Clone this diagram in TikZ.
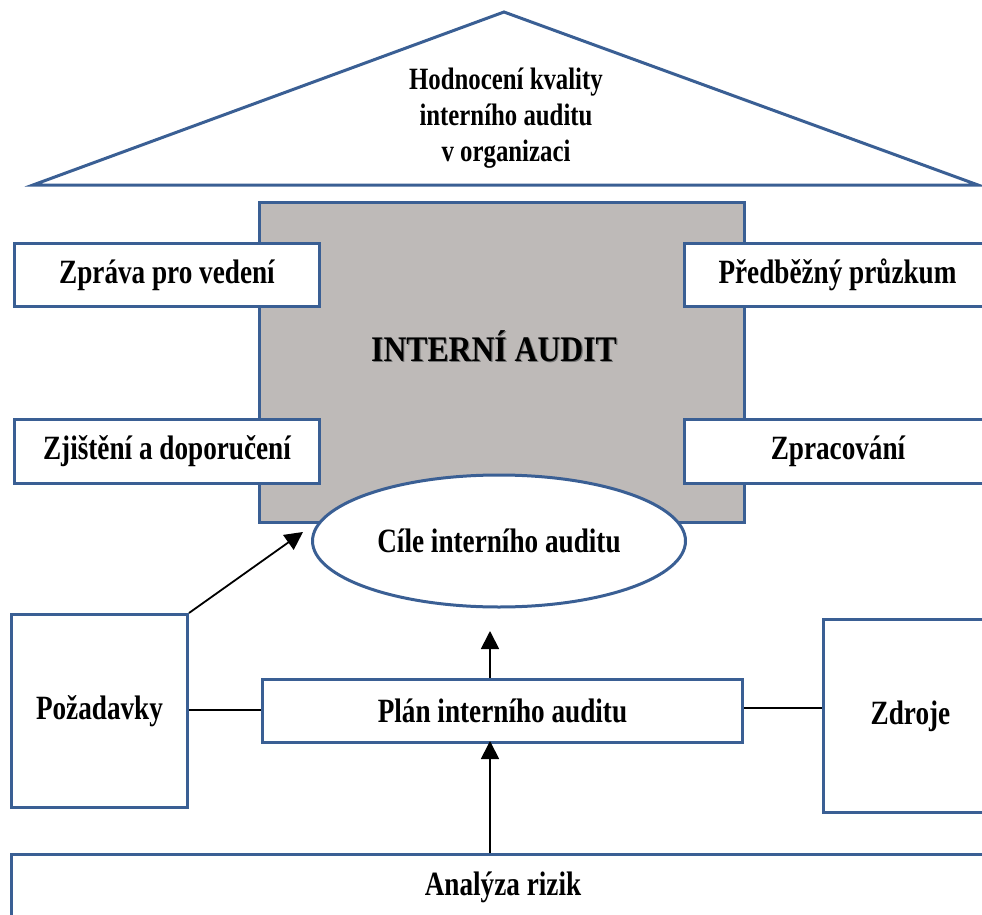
\documentclass[tikz,border=0pt]{standalone}
\usepackage{fontspec}
\setmainfont{Liberation Serif}
\newfontfamily\condfont[FakeStretch=0.8]{Liberation Serif}
\newfontfamily\iafont[FakeStretch=0.88]{Liberation Serif}
\usetikzlibrary{shapes.geometric,arrows.meta}
\definecolor{bordblue}{HTML}{3A5F94}
\definecolor{boxgray}{HTML}{BEBAB8}
\begin{document}
\begin{tikzpicture}[x=1pt,y=-1pt,
  box/.style={draw=bordblue,line width=3pt,fill=white,inner sep=0pt,font=\condfont\bfseries\fontsize{34}{38}\selectfont},
  conn/.style={draw=black,line width=1.8pt},
  arr/.style={conn,-{Triangle[length=18pt,width=18pt]}}]
\useasboundingbox (0,0) rectangle (982,915);
\clip (0,0) rectangle (982,915);
% roof
\draw[draw=bordblue,line width=3pt,fill=white] (33,185) -- (504,12) -- (978,185) -- cycle;
\node[font=\condfont\bfseries\fontsize{31}{36}\selectfont,align=center] (roof) at (506,118) {Hodnocení kvality\\interního auditu\\v organizaci};
% main grey box
\node[draw=bordblue,line width=3pt,fill=boxgray,minimum width=485pt,minimum height=320pt,anchor=north west] (ia) at (258,201) {};
\node[font=\iafont\bfseries\fontsize{36}{40}\selectfont,text=black!55] (iash) at (495.2,347.2) {INTERNÍ AUDIT};
\node[font=\iafont\bfseries\fontsize{36}{40}\selectfont] (iat) at (494,346) {INTERNÍ AUDIT};
% side boxes
\node[box,minimum width=305pt,minimum height=63pt,anchor=north west] (zpr) at (13,242) {Zpráva pro vedení};
\node[box,minimum width=305pt,minimum height=64pt,anchor=north west] (zji) at (13,418) {Zjištění a doporučení};
\node[box,minimum width=306pt,minimum height=63pt,anchor=north west] (pre) at (683,242) {Předběžný průzkum};
\node[box,minimum width=307pt,minimum height=64pt,anchor=north west] (zpc) at (683,418) {Zpracování};
% ellipse
\node[ellipse,draw=bordblue,line width=3pt,fill=white,minimum width=373pt,minimum height=132pt,inner sep=0pt,font=\condfont\bfseries\fontsize{34}{38}\selectfont] (cil) at (499,541) {Cíle interního auditu};
% lower boxes
\node[box,minimum width=176pt,minimum height=193pt,anchor=north west] (poz) at (10,613) {Požadavky};
\node[box,minimum width=174pt,minimum height=193pt,anchor=north west] (zdr) at (822,618) {Zdroje};
\node[box,minimum width=480pt,minimum height=63pt,anchor=north west] (pla) at (261,678) {Plán interního auditu};
\node[box,minimum width=983pt,minimum height=66pt,anchor=north west] (ana) at (10,853) {Analýza rizik};
% connectors
\coordinate (aim) at (303,532);
\draw[arr] (poz.north east) -- (aim);
\coordinate (cilb) at (490,631);
\draw[arr] (pla.north -| cilb) -- (cilb);
\coordinate (plab) at (490,741);
\draw[arr] (ana.north -| plab) -- (plab);
\draw[conn] (poz.east |- 0,710) -- (pla.west |- 0,710);
\draw[conn] (pla.east |- 0,708) -- (zdr.west |- 0,708);
\end{tikzpicture}
\end{document}
